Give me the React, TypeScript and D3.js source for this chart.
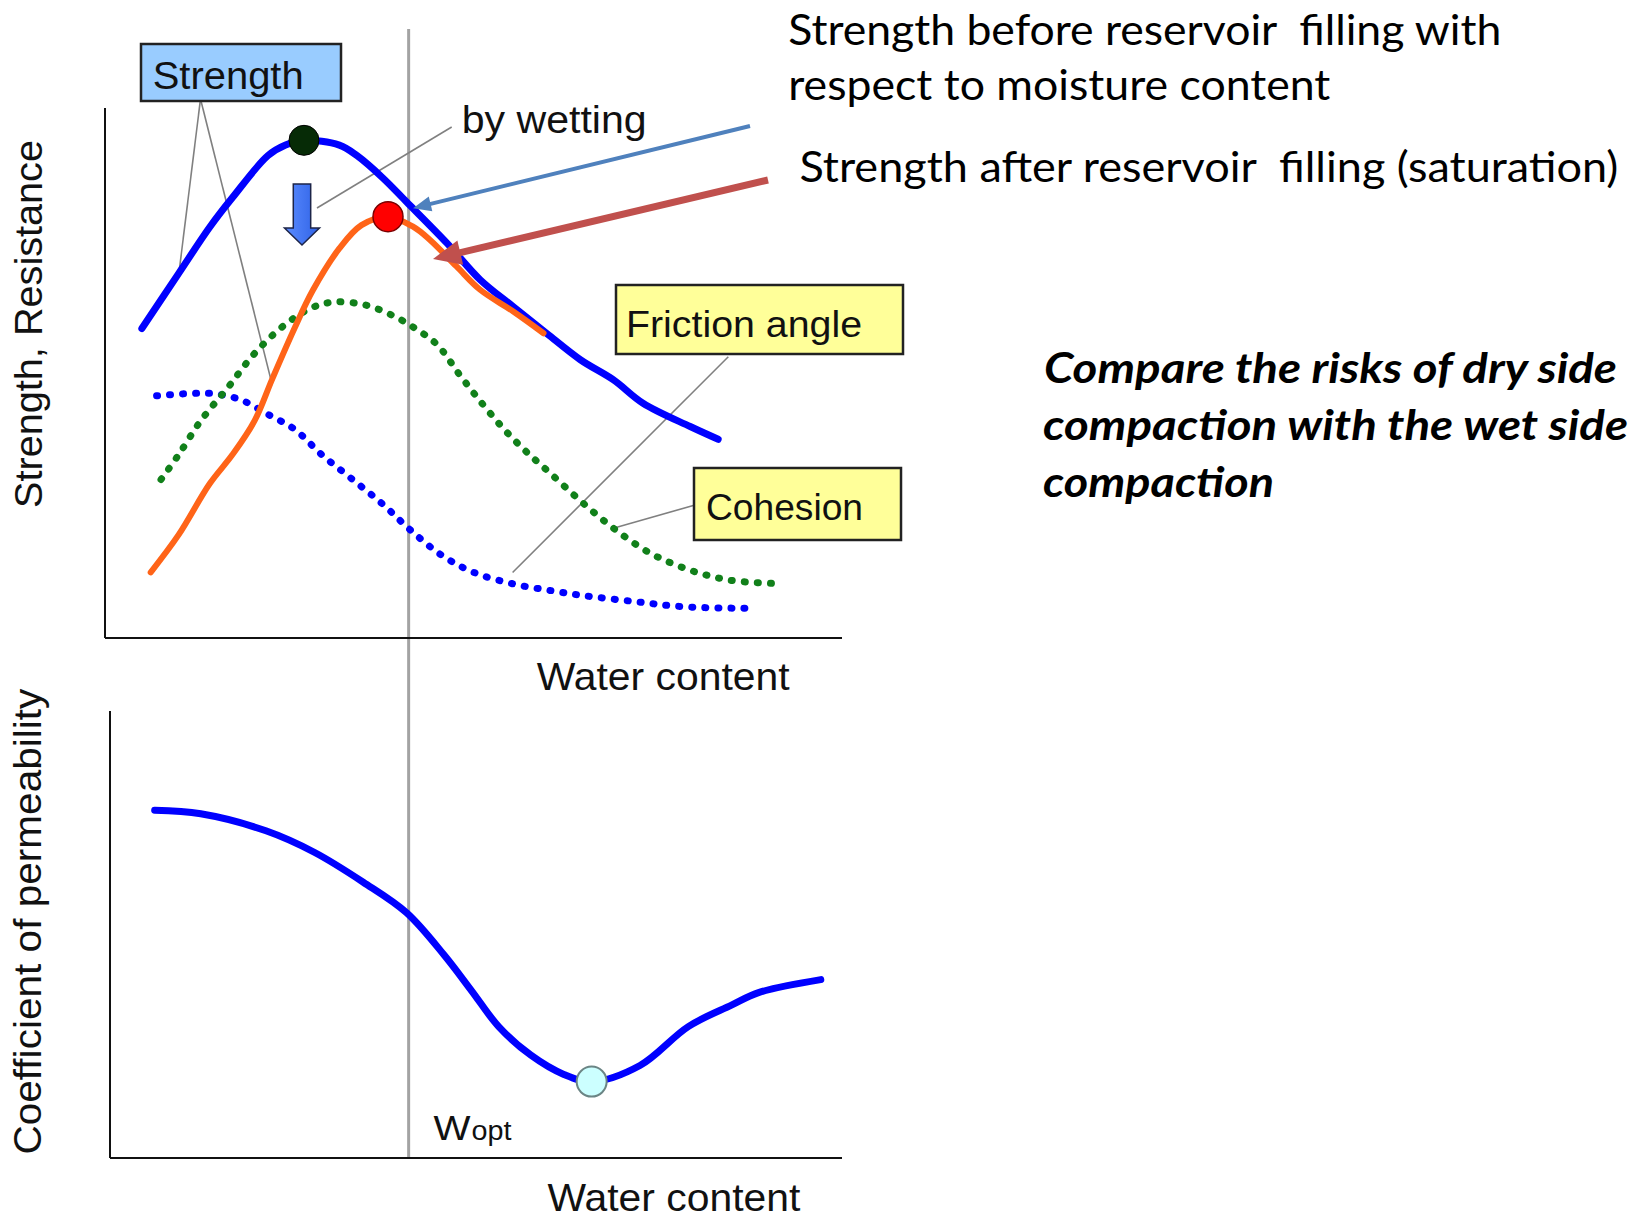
import React from 'react';
import * as d3 from 'd3';

// ---------- data (water content 0-100, response 0-100) ----------
const strengthBefore: [number, number][] = [
  [5.0, 58.4], [10.0, 68.8], [14.2, 77.5], [17.3, 83.1], [22.1, 91.0], [24.5, 93.0],
  [27.0, 93.9], [31.8, 93.0], [34.2, 91.0], [37.7, 86.8], [40.9, 82.3], [46.4, 74.5],
  [50.9, 67.6], [55.4, 62.5], [59.9, 57.5], [64.5, 52.5], [69.0, 48.7], [73.0, 44.3],
  [79.4, 39.9], [83.2, 37.5],
];
const strengthAfter: [number, number][] = [
  [6.2, 12.4], [10.0, 19.5], [14.2, 29.1], [17.3, 34.6], [20.3, 41.0], [22.7, 48.9],
  [25.7, 58.4], [28.2, 65.6], [31.8, 73.5], [34.8, 77.9], [38.4, 79.5], [41.8, 77.6],
  [44.1, 75.1], [47.7, 70.1], [50.9, 65.7], [55.4, 61.6], [59.5, 57.5],
];
const cohesion: [number, number][] = [
  [7.6, 29.9], [10.0, 34.6], [13.0, 41.0], [16.7, 47.3], [20.3, 53.7], [24.5, 59.2],
  [28.2, 62.4], [31.2, 63.4], [35.4, 62.8], [39.1, 60.8], [42.1, 58.4], [45.1, 55.3],
  [48.1, 49.7], [51.2, 44.2], [54.2, 39.3], [57.2, 35.1], [60.4, 31.1], [64.5, 25.9],
  [69.0, 20.7], [74.0, 16.0], [79.4, 12.8], [84.8, 10.9], [90.7, 10.3],
];
const frictionAngle: [number, number][] = [
  [7.0, 45.7], [11.2, 46.1], [14.8, 46.1], [18.5, 44.9], [22.1, 42.2], [25.7, 39.4],
  [29.4, 34.6], [33.6, 29.9], [37.8, 25.1], [41.5, 20.3], [45.7, 15.6], [50.0, 12.4],
  [55.4, 10.2], [60.7, 8.9], [64.9, 8.0], [71.7, 6.9], [78.5, 5.9], [87.5, 5.6],
];
const permeability: [number, number][] = [
  [6.1, 77.8], [12.4, 77.0], [21.3, 73.2], [27.9, 68.4], [34.6, 61.7], [40.5, 54.9],
  [45.7, 45.3], [49.4, 37.4], [53.1, 29.4], [57.5, 23.0], [62.0, 18.7], [65.8, 17.1],
  [72.4, 20.7], [79.0, 29.4], [84.9, 34.2], [88.6, 37.0], [97.1, 39.9],
];
const WOPT = 41.2;

// ---------- texts ----------
const noteBefore1 = 'Strength before reservoir \u00a0filling with';
const noteBefore2 = 'respect to moisture content';
const noteAfter = 'Strength after reservoir \u00a0filling (saturation)';
const compareLines = ['Compare the risks of dry side', 'compaction with the wet side', 'compaction'];

const LF = "'Liberation Sans', Arial, sans-serif";
const CF = "Lato, 'Open Sans', sans-serif";

function Arrow({ x1, y1, x2, y2, color, width, hl, hw }: any) {
  const dx = x2 - x1, dy = y2 - y1;
  const len = Math.hypot(dx, dy);
  const ux = dx / len, uy = dy / len;
  const bx = x2 - ux * hl, by = y2 - uy * hl;
  const px = -uy, py = ux;
  const pts = [
    [x2, y2],
    [bx + px * hw / 2, by + py * hw / 2],
    [bx - px * hw / 2, by - py * hw / 2],
  ].map(p => p.join(',')).join(' ');
  return (
    <g>
      <line x1={x1} y1={y1} x2={bx + ux * 2} y2={by + uy * 2} stroke={color} strokeWidth={width} />
      <polygon points={pts} fill={color} />
    </g>
  );
}

export default function App() {
  const xT = d3.scaleLinear().domain([0, 100]).range([105, 842]);
  const yT = d3.scaleLinear().domain([0, 100]).range([638, 108]);
  const xB = d3.scaleLinear().domain([0, 100]).range([110, 842]);
  const yB = d3.scaleLinear().domain([0, 100]).range([1158, 711]);

  const lineT = d3.line<[number, number]>().x(d => xT(d[0])).y(d => yT(d[1])).curve(d3.curveCatmullRom.alpha(0.5));
  const lineB = d3.line<[number, number]>().x(d => xB(d[0])).y(d => yB(d[1])).curve(d3.curveCatmullRom.alpha(0.5));

  const peakBefore = d3.greatest(strengthBefore, d => d[1])!;
  const peakAfter = d3.greatest(strengthAfter, d => d[1])!;
  const minPerm = d3.least(permeability, d => d[1])!;

  const vx = xT(WOPT);
  const ax = xT(peakBefore[0]) - 2;

  return (
    <svg width={1647} height={1218} style={{ position: 'absolute', left: 0, top: 0, background: '#fff' }}>
      <rect width={1647} height={1218} fill="#fff" />
      {/* vertical Wopt line */}
      <line x1={vx} y1={29} x2={vx} y2={1159} stroke="#a3a3a3" strokeWidth={3} />

      {/* axes */}
      <line x1={xT(0)} y1={108} x2={xT(0)} y2={yT(0)} stroke="#111" strokeWidth={2} />
      <line x1={xT(0)} y1={yT(0)} x2={xT(100)} y2={yT(0)} stroke="#111" strokeWidth={2} />
      <line x1={xB(0)} y1={711} x2={xB(0)} y2={yB(0)} stroke="#111" strokeWidth={2} />
      <line x1={xB(0)} y1={yB(0)} x2={xB(100)} y2={yB(0)} stroke="#111" strokeWidth={2} />

      {/* leader lines */}
      <g stroke="#808080" strokeWidth={1.6} fill="none">
        <line x1={200.5} y1={99} x2={178.6} y2={275.7} />
        <line x1={200.5} y1={99} x2={272.3} y2={385.1} />
        <line x1={451.7} y1={127} x2={317} y2={208} />
        <line x1={728.3} y1={356.7} x2={512.6} y2={572.5} />
        <line x1={695} y1={505} x2={613.3} y2={528.3} />
      </g>

      {/* curves */}
      <path d={lineT(frictionAngle)!} fill="none" stroke="#0000ff" strokeWidth={7} strokeDasharray="1 12" strokeLinecap="round" />
      <path d={lineT(cohesion)!} fill="none" stroke="#11801a" strokeWidth={7} strokeDasharray="1 12" strokeLinecap="round" />
      <path d={lineT(strengthBefore)!} fill="none" stroke="#0000ff" strokeWidth={7} strokeLinecap="round" strokeLinejoin="round" />
      <path d={lineT(strengthAfter)!} fill="none" stroke="#ff6418" strokeWidth={6} strokeLinecap="round" strokeLinejoin="round" />
      <path d={lineB(permeability)!} fill="none" stroke="#0000ff" strokeWidth={7} strokeLinecap="round" strokeLinejoin="round" />

      {/* markers */}
      <circle cx={xT(peakBefore[0])} cy={yT(peakBefore[1])} r={15} fill="#062b06" stroke="#000" strokeWidth={1} />
      <circle cx={xT(peakAfter[0])} cy={yT(peakAfter[1])} r={15} fill="#ff0000" stroke="#7a0000" strokeWidth={1.5} />
      <circle cx={xB(minPerm[0])} cy={yB(minPerm[1])} r={15} fill="#ccffff" stroke="#6b8585" strokeWidth={2} />

      {/* wetting down arrow */}
      <defs>
        <linearGradient id="dg" x1="0" y1="0" x2="1" y2="0">
          <stop offset="0" stopColor="#5b8cff" />
          <stop offset="1" stopColor="#2f62e6" />
        </linearGradient>
      </defs>
      <polygon
        points={`${ax - 8.7},184 ${ax + 8.7},184 ${ax + 8.7},228 ${ax + 17.5},228 ${ax},245 ${ax - 17.5},228 ${ax - 8.7},228`}
        fill="url(#dg)" stroke="#1c2448" strokeWidth={1.5} strokeLinejoin="miter"
      />

      {/* pointing arrows */}
      <Arrow x1={750} y1={126} x2={xT(41.8)} y2={yT(81.1)} color="#4f81bd" width={4} hl={18} hw={15} />
      <Arrow x1={768} y1={180} x2={433} y2={259} color="#c0504d" width={7} hl={28} hw={25} />

      {/* boxes */}
      <rect x={141} y={44} width={200} height={57} fill="#99ccff" stroke="#222" strokeWidth={2.5} />
      <rect x={616} y={285} width={287} height={69} fill="#ffff99" stroke="#222" strokeWidth={2.5} />
      <rect x={694} y={468} width={207} height={72} fill="#ffff99" stroke="#222" strokeWidth={2.5} />

      <g fontFamily={LF} fill="#111">
        <text x={152.7} y={89} fontSize={39} textLength={151} lengthAdjust="spacingAndGlyphs">Strength</text>
        <text x={461.7} y={133} fontSize={38} textLength={185} lengthAdjust="spacingAndGlyphs">by wetting</text>
        <text x={626} y={337} fontSize={36} textLength={236} lengthAdjust="spacingAndGlyphs">Friction angle</text>
        <text x={706} y={520} fontSize={37} textLength={157} lengthAdjust="spacingAndGlyphs">Cohesion</text>
        <text x={536.7} y={690} fontSize={39} textLength={253} lengthAdjust="spacingAndGlyphs">Water content</text>
        <text x={547.4} y={1211} fontSize={39} textLength={253} lengthAdjust="spacingAndGlyphs">Water content</text>
        <text x={433.6} y={1140} fontSize={35} textLength={37} lengthAdjust="spacingAndGlyphs">W</text>
        <text x={471.5} y={1140} fontSize={27} textLength={40} lengthAdjust="spacingAndGlyphs">opt</text>
        <text transform="translate(41.5,324) rotate(-90)" textAnchor="middle" fontSize={38} textLength={368} lengthAdjust="spacingAndGlyphs">Strength, Resistance</text>
        <text transform="translate(41,921.6) rotate(-90)" textAnchor="middle" fontSize={38} textLength={466} lengthAdjust="spacingAndGlyphs">Coefficient of permeability</text>
      </g>

      <g fontFamily={CF} fill="#000">
        <text x={788.3} y={45} fontSize={42} textLength={713} lengthAdjust="spacingAndGlyphs">{noteBefore1}</text>
        <text x={788.3} y={100} fontSize={42} textLength={542} lengthAdjust="spacingAndGlyphs">{noteBefore2}</text>
        <text x={799.4} y={182} fontSize={42} textLength={819} lengthAdjust="spacingAndGlyphs">{noteAfter}</text>
      </g>
      <g fontFamily={CF} fill="#000" fontWeight="bold" fontStyle="italic">
        <text x={1044} y={383} fontSize={42} textLength={573} lengthAdjust="spacingAndGlyphs">{compareLines[0]}</text>
        <text x={1043} y={440} fontSize={42} textLength={585} lengthAdjust="spacingAndGlyphs">{compareLines[1]}</text>
        <text x={1043} y={497} fontSize={42} textLength={231} lengthAdjust="spacingAndGlyphs">{compareLines[2]}</text>
      </g>
    </svg>
  );
}
